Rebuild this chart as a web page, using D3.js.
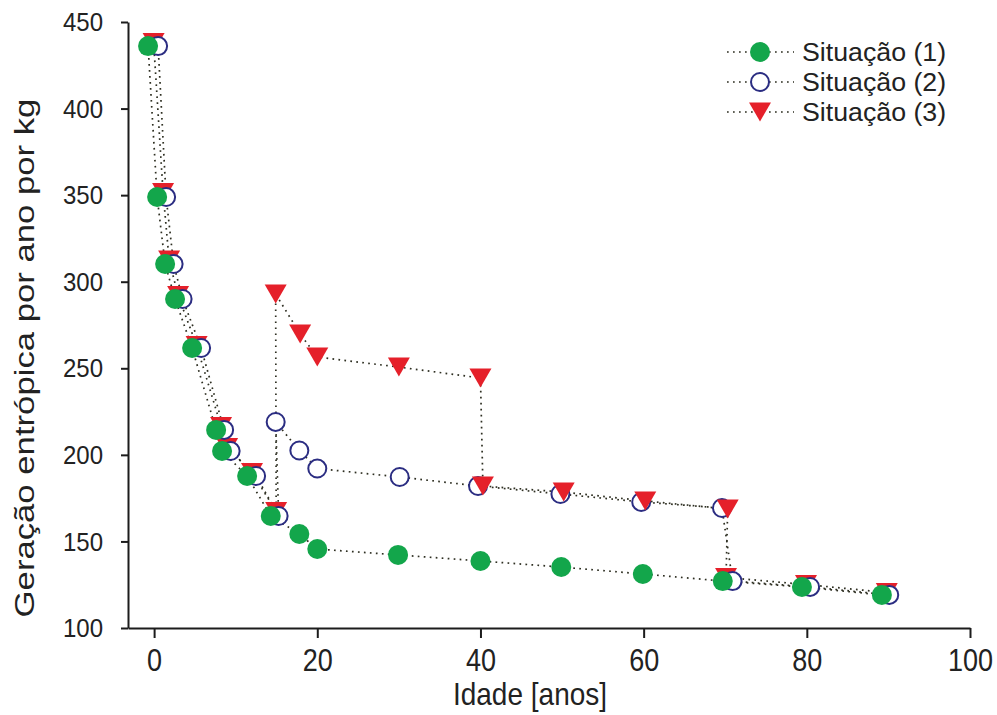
<!DOCTYPE html>
<html>
<head>
<meta charset="utf-8">
<script src="https://cdn.jsdelivr.net/npm/d3@7"></script>
<style>
  html, body { margin: 0; padding: 0; background: #fff; }
  svg { display: block; font-family: "Liberation Sans", Arial, sans-serif; }
</style>
</head>
<body>
<svg id="chart" width="997" height="715"></svg>
<script>
// Entropy generation per year per kg versus age, three scenarios
const seriesNames = ["Situação (1)", "Situação (2)", "Situação (3)"];

const ageS1 = [-0.74, 0.37, 1.35, 2.57, 4.66, 7.6, 8.33, 11.4, 14.3, 17.8, 20.0, 29.9, 40.0, 49.9, 59.9, 69.7, 79.4, 89.2];
const genS1 = [436.1, 348.9, 310.2, 290.0, 261.7, 214.4, 202.2, 187.8, 164.7, 154.3, 145.6, 142.2, 138.7, 135.2, 131.2, 127.1, 123.7, 119.1];

const ageS2 = [0.49, 1.47, 2.39, 3.49, 5.76, 8.58, 9.38, 12.5, 15.26, 14.9, 17.8, 20.0, 30.1, 39.7, 49.8, 59.7, 69.6, 70.9, 80.4, 90.1];
const genS2 = [436.1, 348.9, 310.2, 290.0, 261.7, 214.4, 202.2, 187.8, 164.7, 219.0, 202.5, 192.1, 187.2, 182.0, 177.4, 172.8, 169.3, 127.1, 123.7, 119.1];

const ageS3 = [-0.06, 1.10, 1.84, 2.94, 5.21, 8.21, 8.95, 12.0, 14.96, 14.9, 17.9, 20.0, 30.0, 40.0, 40.3, 50.2, 60.2, 70.3, 70.1, 79.9, 89.8];
const genS3 = [438.2, 351.5, 312.5, 292.0, 263.2, 216.4, 204.3, 189.8, 167.3, 292.9, 269.8, 256.5, 250.7, 244.4, 182.0, 178.5, 173.4, 168.7, 129.2, 125.1, 120.5];

const xTicks = [0, 20, 40, 60, 80, 100];
const yTicks = [100, 150, 200, 250, 300, 350, 400, 450];

const GREEN = "#13a64b", NAVY = "#2b2d82", RED = "#e5202a", DOTS = "#2e2f22", INK = "#1c1c1c";

const svg = d3.select("#chart");

const x = d3.scaleLinear().domain([-3.2, 100]).range([128, 970]);
const y = d3.scaleLinear().domain([100, 450]).range([628, 22]);

const s1 = ageS1.map((a, i) => ({ a, g: genS1[i] }));
const s2 = ageS2.map((a, i) => ({ a, g: genS2[i] }));
const s3 = ageS3.map((a, i) => ({ a, g: genS3[i] }));

// triangles that sit under a scenario-1 point are stacked beneath the circles
const hidden = d => s1.some(p => Math.abs(p.a - d.a) < 2 && Math.abs(p.g - d.g) < 5);

const line = d3.line().x(d => x(d.a)).y(d => y(d.g));

// axes
const xAxis = svg.append("g")
  .attr("transform", `translate(0,${y(100)})`)
  .call(d3.axisBottom(x).tickValues(xTicks).tickSize(10).tickSizeOuter(0).tickFormat(d3.format("d")));
const yAxis = svg.append("g")
  .attr("transform", `translate(${x(-3.2)},0)`)
  .call(d3.axisLeft(y).tickValues(yTicks).tickSize(7).tickSizeOuter(0).tickFormat(d3.format("d")));

[xAxis, yAxis].forEach(g => {
  g.select(".domain").attr("stroke", INK).attr("stroke-width", 2);
  g.selectAll(".tick line").attr("stroke", INK).attr("stroke-width", 2);
  g.selectAll(".tick text").attr("fill", "#222").attr("font-family", "Liberation Sans, Arial, sans-serif");
});

xAxis.selectAll(".tick text")
  .attr("y", 0).attr("dy", null)
  .attr("dominant-baseline", "central")
  .attr("font-size", 27)
  .attr("transform", "translate(0,32) scale(1,1.14)");

yAxis.selectAll(".tick text")
  .attr("x", 0).attr("dy", null)
  .attr("dominant-baseline", "central")
  .attr("font-size", 24)
  .attr("transform", "translate(-25,0) scale(1,1.05)");

// axis titles
svg.append("text")
  .attr("transform", "translate(530,705) scale(1,1.12)")
  .attr("text-anchor", "middle")
  .attr("font-size", 28)
  .attr("fill", "#222")
  .text("Idade [anos]");

svg.append("text")
  .attr("transform", "translate(34,358) rotate(-90) scale(1.24,1)")
  .attr("text-anchor", "middle")
  .attr("font-size", 28)
  .attr("fill", "#222")
  .text("Geração entrópica por ano por kg");

// dotted connecting lines
const plot = svg.append("g");
[s1, s2, s3].forEach(s => {
  plot.append("path")
    .datum(s)
    .attr("d", line)
    .attr("fill", "none")
    .attr("stroke", DOTS)
    .attr("stroke-width", 1.7)
    .attr("stroke-dasharray", "1.7,4.3");
});

const tri = "M-11,-9.5L11,-9.5L0,9.5Z";

function triangles(data) {
  plot.append("g").selectAll("path").data(data).join("path")
    .attr("d", tri)
    .attr("transform", d => `translate(${x(d.a)},${y(d.g)})`)
    .attr("fill", RED);
}

triangles(s3.filter(hidden));

plot.append("g").selectAll("circle").data(s2).join("circle")
  .attr("cx", d => x(d.a)).attr("cy", d => y(d.g)).attr("r", 9)
  .attr("fill", "#fff").attr("stroke", NAVY).attr("stroke-width", 2);

triangles(s3.filter(d => !hidden(d)));

plot.append("g").selectAll("circle").data(s1).join("circle")
  .attr("cx", d => x(d.a)).attr("cy", d => y(d.g)).attr("r", 10)
  .attr("fill", GREEN);

// legend
const legend = svg.append("g");
const rows = legend.selectAll("g").data(seriesNames).join("g")
  .attr("transform", (d, i) => `translate(0,${52 + i * 30})`);
rows.append("line")
  .attr("x1", 727).attr("x2", 794).attr("y1", 0).attr("y2", 0)
  .attr("stroke", DOTS).attr("stroke-width", 1.7).attr("stroke-dasharray", "1.7,4.3");
rows.each(function (d, i) {
  const g = d3.select(this);
  if (i === 0) g.append("circle").attr("cx", 760).attr("cy", 0).attr("r", 10).attr("fill", GREEN);
  if (i === 1) g.append("circle").attr("cx", 760).attr("cy", 0).attr("r", 9).attr("fill", "#fff").attr("stroke", NAVY).attr("stroke-width", 2);
  if (i === 2) g.append("path").attr("d", tri).attr("transform", "translate(760,0)").attr("fill", RED);
});
rows.append("text")
  .attr("transform", "translate(802,0) scale(1.07,1)")
  .attr("dominant-baseline", "central")
  .attr("font-size", 25)
  .attr("fill", "#222")
  .text(d => d);
</script>
</body>
</html>
